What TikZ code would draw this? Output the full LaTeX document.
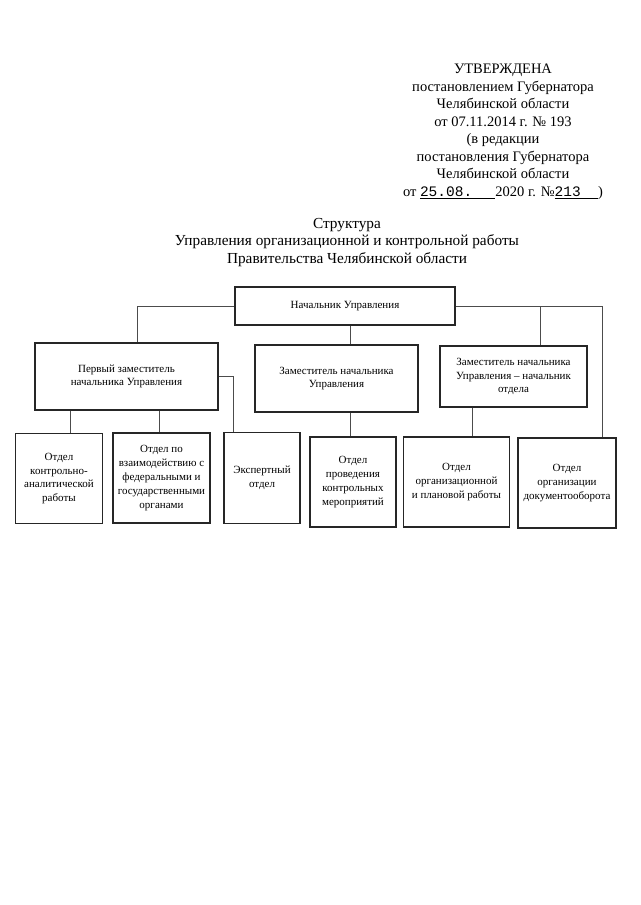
\documentclass[tikz,border=0pt]{standalone}
\usepackage{fontspec}
\setmainfont{Liberation Serif}
\newfontfamily\monof{Liberation Mono}
\begin{document}
\begin{tikzpicture}[x=1pt,y=-1pt,
  box/.style={draw=black!85,line width=1.1pt,fill=white,align=center,inner sep=1pt,
    font=\fontsize{11}{13.8}\selectfont},
  link/.style={draw=black!70,line width=0.6pt},
  hdr/.style={align=center,inner sep=0pt,font=\fontsize{14.5}{17.5}\selectfont}]
\useasboundingbox (0,0) rectangle (640,905);
% header
\node[hdr,anchor=north] (hd) at (503,64) {УТВЕРЖДЕНА\\
постановлением Губернатора\\
Челябинской области\\
от 07.11.2014 г. № 193\\
(в редакции\\
постановления Губернатора\\
Челябинской области\\
от \underline{\monof 25.08.\hspace{1.6em}}2020 г. №\underline{\monof 213\hspace{1.2em}})};
% title
\node[hdr,anchor=north,font=\fontsize{15.3}{17.5}\selectfont] (ttl) at (347,218) {Структура\\
Управления организационной и контрольной работы\\
Правительства Челябинской области};
% boxes
\node[box,minimum width=220,minimum height=38] (head) at (345,306) {Начальник Управления};
\node[box,minimum width=183,minimum height=67] (d1) at (126.5,376.5) {Первый заместитель\\начальника Управления};
\node[box,minimum width=163,minimum height=67] (d2) at (336.5,378.5) {Заместитель начальника\\Управления};
\node[box,minimum width=147,minimum height=61] (d3) at (513.5,376.5) {Заместитель начальника\\Управления – начальник\\отдела};
\node[box,minimum width=87,minimum height=90] (b1) at (59,478.5) {Отдел\\контрольно-\\аналитической\\работы};
\node[box,minimum width=97,minimum height=90] (b2) at (161.5,478) {Отдел по\\взаимодействию с\\федеральными и\\государственными\\органами};
\node[box,minimum width=76,minimum height=91] (b3) at (262,478) {Экспертный\\отдел};
\node[box,minimum width=86,minimum height=90] (b4) at (353,482) {Отдел\\проведения\\контрольных\\мероприятий};
\node[box,minimum width=106,minimum height=90] (b5) at (456.5,482) {Отдел\\организационной\\и плановой работы};
\node[box,minimum width=98,minimum height=90] (b6) at (567,483) {Отдел\\организации\\документооборота};
% connectors
\draw[link] (head.west) -| (d1.north -| 137,0);
\draw[link] (head.south -| 350,0) -- (d2.north -| 350,0);
\draw[link] (head.east) -| (b6.north -| 602,0);
\draw[link] (head.east -| 540,0) -- (d3.north -| 540,0);
\draw[link] (d1.east) -| (b3.north -| 233,0);
\draw[link] (d1.south -| 70,0) -- (b1.north -| 70,0);
\draw[link] (d1.south -| 159,0) -- (b2.north -| 159,0);
\draw[link] (d2.south -| 350,0) -- (b4.north -| 350,0);
\draw[link] (d3.south -| 472,0) -- (b5.north -| 472,0);
\end{tikzpicture}
\end{document}
